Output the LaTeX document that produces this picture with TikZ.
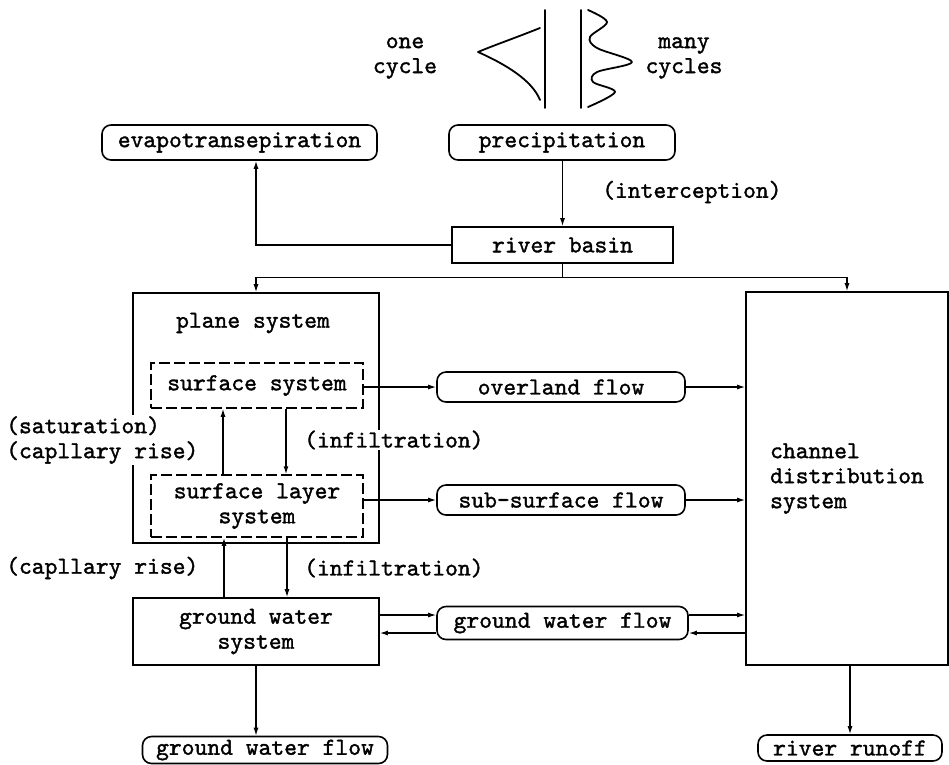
\documentclass[tikz,border=0pt]{standalone}
\usepackage{fontspec}
\newfontfamily\tfont{lmmono10-regular.otf}[FakeBold=1.4]
\usetikzlibrary{arrows.meta,calc}
\begin{document}
\begin{tikzpicture}[x=1pt,y=-1pt,
  tt/.style={font=\fontsize{24.4}{25}\selectfont\tfont},
  rbox/.style={tt,draw,rounded corners=9pt,line width=1.6pt,inner sep=0pt},
  sbox/.style={tt,draw,line width=1.6pt,inner sep=0pt},
  dbox/.style={tt,draw,line width=1.5pt,inner sep=0pt,dash pattern=on 11pt off 4pt},
  lbl/.style={tt,fill=white,inner sep=1pt},
  conn/.style={line width=1.3pt,-{Latex[length=8pt,width=5pt]}},
  wire/.style={line width=1.3pt},
  curve/.style={line width=1.8pt,line cap=round,line join=round}]
\useasboundingbox (0,0) rectangle (949,764);
\fill[white] (0,0) rectangle (949,764);

% hydrographs
\draw[curve] (545,10) -- (545,108);
\draw[curve] (581,10) -- (581,108);
\draw[curve] (540,28) .. controls (515,38) and (492,46) .. (478,52)
             .. controls (505,64) and (532,80) .. (540,100);
\draw[curve] plot[smooth,tension=0.55] coordinates {(588,10) (607,22) (590,37) (597,48) (632,62) (597,72) (593,82) (615,92) (588,107)};
\node[tt,align=center] (one) at (405,58) {one\\cycle};
\node[tt,align=center] (many) at (684,58) {many\\cycles};

% boxes
\node[rbox,minimum width=275pt,minimum height=35pt] (evap) at (239.5,142.5) {evapotransepiration};
\node[rbox,minimum width=226pt,minimum height=35pt] (prec) at (562,142.5) {precipitation};
\node[sbox,minimum width=221pt,minimum height=36pt] (rb) at (562.5,245) {river basin};
\node[sbox,minimum width=246pt,minimum height=250pt] (plane) at (256,418) {};
\node[tt] (planetxt) at (253,323) {plane system};
\node[dbox,minimum width=212pt,minimum height=45pt] (ss) at (257,385.5) {surface system};
\node[dbox,minimum width=212pt,minimum height=62pt,align=center] (sl) at (257,506) {surface layer\\system};
\node[rbox,minimum width=248pt,minimum height=30pt] (ov) at (561,387) {overland flow};
\node[rbox,minimum width=248pt,minimum height=30pt] (sub) at (561,500) {sub-surface flow};
\node[sbox,minimum width=202pt,minimum height=373pt,align=left] (chan) at (847,478.5) {channel\\distribution\\system};
\node[sbox,minimum width=246pt,minimum height=67pt,align=center] (gw) at (256,631.5) {ground water\\system};
\node[rbox,minimum width=251pt,minimum height=33pt] (mgf) at (562.5,623) {ground water flow};
\node[rbox,minimum width=245pt,minimum height=27pt] (gwf) at (265,750) {ground water flow};
\node[rbox,minimum width=184pt,minimum height=26pt] (rr) at (850,748) {river runoff};

% connectors
\draw[conn] (prec.south -| rb.north) -- (rb.north);
\draw[conn] (rb.west) -| (evap.south -| plane.north);
\coordinate (split) at ([yshift=-14pt]rb.south);
\draw[wire] (rb.south) -- (split);
\draw[conn] (split) -| (plane.north);
\draw[conn] (split) -| (chan.north);
\draw[conn] (ss.east |- ov.west) -- (ov.west);
\draw[conn] (ov.east) -- (ov.east -| chan.west);
\draw[conn] (sl.east |- sub.west) -- (sub.west);
\draw[conn] (sub.east) -- (sub.east -| chan.west);
\draw[conn] ([xshift=-34pt]sl.north) -- ([xshift=-34pt]ss.south);
\draw[conn] ([xshift=29pt]ss.south) -- ([xshift=29pt]sl.north);
\draw[conn] ([xshift=-32pt]gw.north) -- ([xshift=-32pt]gw.north |- sl.south);
\draw[conn] ([xshift=31pt]gw.north |- sl.south) -- ([xshift=31pt]gw.north);
\draw[conn] (gw.south) -- (gw.south |- gwf.north);
\draw[conn] (chan.south -| rr.north) -- (rr.north);
\draw[conn] ([yshift=8pt]mgf.west -| gw.east) -- ([yshift=8pt]mgf.west);
\draw[conn] ([yshift=-10pt]mgf.west) -- ([yshift=-10pt]mgf.west -| gw.east);
\draw[conn] ([yshift=8pt]mgf.east) -- ([yshift=8pt]mgf.east -| chan.west);
\draw[conn] ([yshift=-10pt]mgf.east -| chan.west) -- ([yshift=-10pt]mgf.east);

% labels
\node[lbl,anchor=west,align=left] (satl) at (5,440) {(saturation)\\(capllary rise)};
\node[lbl,anchor=west] (inf1) at (303,440) {(infiltration)};
\node[lbl,anchor=west] (cap2) at (5,568) {(capllary rise)};
\node[lbl,anchor=west] (inf2) at (303,568) {(infiltration)};
\node[lbl,anchor=west] (icp) at (601,192) {(interception)};
\end{tikzpicture}
\end{document}
